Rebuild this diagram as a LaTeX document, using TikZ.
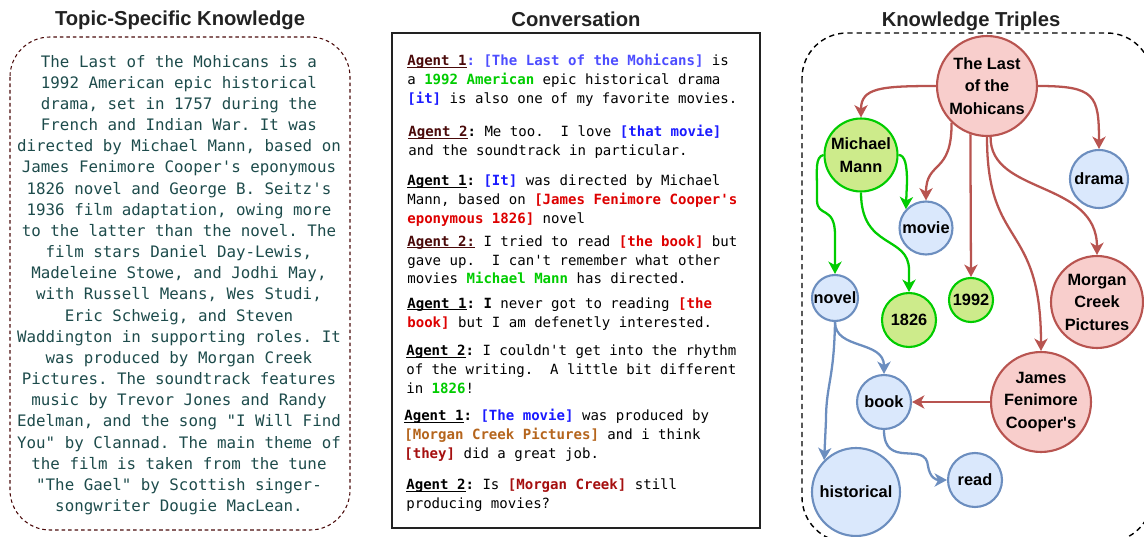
\documentclass[tikz,border=0pt]{standalone}
\usepackage{fontspec}
\setsansfont{Liberation Sans}
\setmonofont{DejaVu Sans Mono}
\usepackage{xcolor}
\usetikzlibrary{arrows.meta}

\definecolor{ttl}{HTML}{222222}
\definecolor{tealtxt}{HTML}{1D4B4B}
\definecolor{maroon}{HTML}{4A0A0A}
\definecolor{lblue}{HTML}{4D4DFF}
\definecolor{eblue}{HTML}{1A1AFF}
\definecolor{egreen}{HTML}{00CC00}
\definecolor{ered}{HTML}{DD0000}
\definecolor{ebrown}{HTML}{B5651D}
\definecolor{edkred}{HTML}{A50F0F}
\definecolor{fred}{HTML}{F8CECC}
\definecolor{cred}{HTML}{B85450}
\definecolor{fgreen}{HTML}{CDEB8B}
\definecolor{cgreen}{HTML}{00CC00}
\definecolor{fblue}{HTML}{DAE8FC}
\definecolor{cblue}{HTML}{6C8EBF}

\newcommand{\agent}[2]{\textcolor{#1}{\bfseries\setbox0\hbox{#2}\rlap{\rule[-1.4pt]{\wd0}{0.6pt}}\box0}}
\newcommand{\ent}[2]{\textcolor{#1}{\textbf{#2}}}

\begin{document}
\begin{tikzpicture}[x=0.02cm, y=-0.02cm, >={Stealth[length=7pt, width=7.5pt, inset=2pt]}]
				\tikzstyle{title} = [font=\sffamily\bfseries\fontsize{11.5}{13}\selectfont, text=ttl]
				\tikzstyle{turn} = [anchor=north west, align=left, inner sep=0pt, font=\ttfamily\fontsize{8}{10.8}\selectfont]
				\tikzstyle{redc} = [circle, draw=cred, fill=fred, line width=1.2pt, inner sep=0pt, align=center, font=\sffamily\bfseries\fontsize{9.3}{12.8}\selectfont]
				\tikzstyle{greenc} = [redc, draw=cgreen, fill=fgreen]
				\tikzstyle{bluec} = [redc, draw=cblue, fill=fblue]
				\tikzstyle{redarr} = [->, draw=cred, line width=1.3pt]
				\tikzstyle{greenarr} = [->, draw=cgreen, line width=1.3pt]
				\tikzstyle{bluearr} = [->, draw=cblue, line width=1.3pt]
				
				\useasboundingbox (0,0) rectangle (1144,537);
				\clip (0,0) rectangle (1144,537);
				
				% titles
				\node[title] at (180, 20) (ttopic) {Topic-Specific Knowledge};
				\node[title] at (576, 19) (tconv) {Conversation};
				\node[title] at (971, 21) (ttriples) {Knowledge Triples};
				
				% frames
				\draw[draw=maroon, line width=0.6pt, dash pattern=on 2pt off 1.7pt, rounded corners=8mm] (10, 37) rectangle (350, 530);
				\draw[draw=ttl, line width=0.9pt] (392, 33) rectangle (760, 528);
				\draw[draw=black, line width=0.8pt, dash pattern=on 3pt off 2.3pt, rounded corners=9mm] (802, 33) rectangle (1152, 542);
				
				% topic-specific knowledge
				\node[align=center, inner sep=0pt, text=tealtxt, font=\ttfamily\fontsize{9}{12.05}\selectfont] at (179, 285) (know) {%
					The Last of the Mohicans is a\\
					1992 American epic historical\\
					drama, set in 1757 during the\\
					French and Indian War. It was\\
					directed by Michael Mann, based on\\
					James Fenimore Cooper's eponymous\\
					1826 novel and George B. Seitz's\\
					1936 film adaptation, owing more\\
					to the latter than the novel. The\\
					film stars Daniel Day-Lewis,\\
					Madeleine Stowe, and Jodhi May,\\
					with Russell Means, Wes Studi,\\
					Eric Schweig, and Steven\\
					Waddington in supporting roles. It\\
					was produced by Morgan Creek\\
					Pictures. The soundtrack features\\
					music by Trevor Jones and Randy\\
					Edelman, and the song "I Will Find\\
					You" by Clannad. The main theme of\\
					the film is taken from the tune\\
					"The Gael" by Scottish singer-\\
					songwriter Dougie MacLean.};
				
				% conversation
				\node[turn] at (407, 54) (turn1) {\agent{maroon}{Agent 1}\ent{lblue}{: [The Last of the Mohicans]} is\\
					a \ent{egreen}{1992 American} epic historical drama\\
					\ent{eblue}{[it]} is also one of my favorite movies.};
				\node[turn] at (408, 125) (turn2) {\agent{maroon}{Agent 2}\textbf{:} Me too.\ \ I love \ent{eblue}{[that movie]}\\
					and the soundtrack in particular.};
				\node[turn] at (407, 174) (turn3) {\agent{black}{Agent 1}\textbf{:} \ent{eblue}{[It]} was directed by Michael\\
					Mann, based on \ent{ered}{[James Fenimore Cooper's}\\
					\ent{ered}{eponymous 1826]} novel};
				\node[turn] at (407, 235) (turn4) {\agent{maroon}{Agent 2:} I tried to read \ent{ered}{[the book]} but\\
					gave up.\ \ I can't remember what other\\
					movies \ent{egreen}{Michael Mann} has directed.};
				\node[turn] at (407, 297) (turn5) {\agent{black}{Agent 1}\textbf{: I} never got to reading \ent{ered}{[the}\\
					\ent{ered}{book]} but I am defenetly interested.};
				\node[turn] at (406, 344) (turn6) {\agent{black}{Agent 2}\textbf{:} I couldn't get into the rhythm\\
					of the writing.\ \ A little bit different\\
					in \ent{egreen}{1826}!};
				\node[turn] at (404, 409) (turn7) {\agent{black}{Agent 1}\textbf{:} \ent{eblue}{[The movie]} was produced by\\
					\ent{ebrown}{[Morgan Creek Pictures]} and i think\\
					\ent{edkred}{[they]} did a great job.};
				\node[turn] at (406, 478) (turn8) {\agent{black}{Agent 2}\textbf{:} Is \ent{edkred}{[Morgan Creek]} still\\
					producing movies?};
				
				% knowledge triples
				\node[redc, minimum size=20mm] 		at (987, 86) 	(lotm) 		{The Last\\of the\\Mohicans};
				\node[greenc, minimum size=14.6mm] 	at (861, 155) 	(mm) 		{Michael\\Mann};
				\node[bluec, minimum size=11.6mm] 	at (1099, 179) 	(drama) 	{drama};
				\node[bluec, minimum size=10.6mm] 	at (926, 228) 	(movie) 	{movie};
				\node[bluec, minimum size=9.2mm] 	at (835, 298) 	(novel) 	{novel};
				\node[greenc, minimum size=10.8mm] 	at (909, 320) 	(n1826) 	{1826};
				\node[greenc, minimum size=8.8mm] 	at (971, 300) 	(n1992) 	{1992};
				\node[redc, minimum size=18.4mm] 	at (1097, 302) 	(morgan) 	{Morgan\\Creek\\Pictures};
				\node[redc, minimum size=20mm] 		at (1041, 402) 	(james) 	{James\\Fenimore\\Cooper\textquotesingle s};
				\node[bluec, minimum size=10.8mm] 	at (884, 402) 	(book) 		{book};
				\node[bluec, minimum size=17.6mm] 	at (856, 492) 	(historical) {historical};
				\node[bluec, minimum size=10.8mm] 	at (975, 480) 	(read) 		{read};
				
				\draw[redarr] (lotm.west) .. controls (880, 86) and (861, 88) .. (mm.north);
				\draw[redarr] (lotm.east) .. controls (1095, 86) and (1099, 95) .. (drama.north);
				\draw[redarr] (lotm.-134) .. controls (952, 175) and (926, 160) .. (movie.north);
				\draw[redarr] (lotm.-109) -- (n1992.north);
				\draw[redarr] (lotm.south) .. controls (987, 250) and (1041, 220) .. (james.north);
				\draw[redarr] (lotm.-86) .. controls (990, 195) and (1097, 180) .. (morgan.north);
				\draw[redarr] (james.west) -- (book.east);
				
				\draw[greenarr] (mm.west) .. controls (815, 157) and (817, 170) .. (817, 190) -- (817, 200) .. controls (817, 218) and (835, 205) .. (835, 235) -- (novel.north);
				\draw[greenarr] (mm.east) .. controls (905, 155) and (907, 165) .. (907, 182) -- (movie.137);
				\draw[greenarr] (mm.south) .. controls (861, 250) and (909, 235) .. (909, 270) -- (n1826.north);
				
				\draw[bluearr] (novel.south) .. controls (835, 350) and (884, 340) .. (book.north);
				\draw[bluearr] (novel.south) .. controls (834, 380) and (826, 385) .. (826, 420) -- (historical.135);
				\draw[bluearr] (book.south) .. controls (884, 470) and (926, 440) .. (928, 466) .. controls (930, 478) and (936, 480) .. (read.west);
			\end{tikzpicture}
\end{document}
